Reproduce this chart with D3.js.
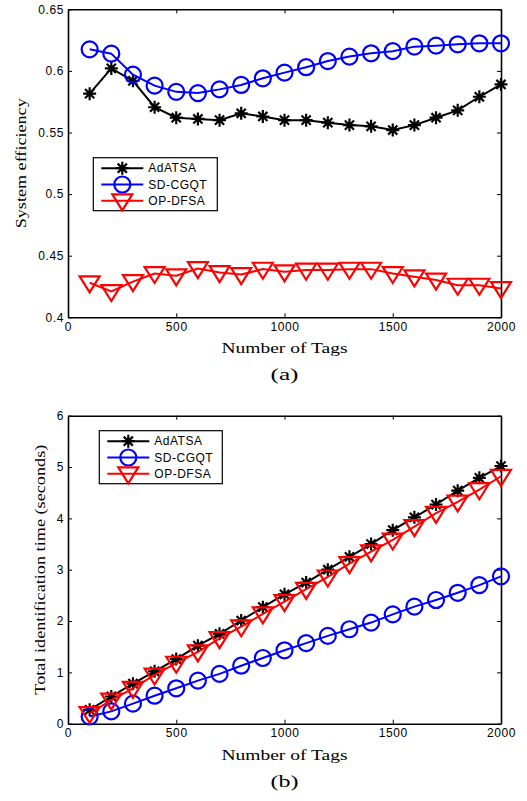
<!DOCTYPE html>
<html>
<head>
<meta charset="utf-8">
<script src="https://cdn.jsdelivr.net/npm/d3@7"></script>
<style>
body { margin: 0; background: #fff; }
svg { display: block; }
</style>
</head>
<body>
<div id="my_dataviz"></div>
<script>
var tags = [100,200,300,400,500,600,700,800,900,1000,1100,1200,1300,1400,1500,1600,1700,1800,1900,2000];
var xTicks = [0,500,1000,1500,2000];

// (a) system efficiency
var effAdATSA = [0.5815,0.602,0.592,0.5705,0.562,0.561,0.560,0.5656,0.563,0.560,0.560,0.558,0.556,0.555,0.552,0.556,0.562,0.568,0.579,0.589];
var effSDCGQT = [0.6175,0.614,0.597,0.588,0.583,0.582,0.585,0.5886,0.594,0.5986,0.603,0.608,0.6116,0.6143,0.616,0.6197,0.6205,0.6216,0.6224,0.6224];
var effOPDFSA = [0.428,0.421,0.429,0.4356,0.4337,0.4396,0.4364,0.4347,0.4391,0.4369,0.4383,0.4383,0.4391,0.4391,0.4356,0.4329,0.4302,0.4261,0.4261,0.4234];
var effTicks = [0.4,0.45,0.5,0.55,0.6,0.65];

// (b) total identification time
var timeAdATSA = [0.27,0.53,0.78,1.02,1.26,1.52,1.75,2.01,2.27,2.52,2.75,3.0,3.25,3.5,3.77,4.02,4.27,4.54,4.79,5.02];
var timeSDCGQT = [0.14,0.24,0.39,0.545,0.69,0.84,0.97,1.13,1.28,1.43,1.57,1.71,1.84,1.97,2.13,2.28,2.41,2.55,2.70,2.87];
var timeOPDFSA = [0.20,0.46,0.69,0.95,1.18,1.40,1.66,1.89,2.14,2.38,2.62,2.86,3.12,3.35,3.58,3.84,4.10,4.32,4.56,4.82];
var timeTicks = [0,1,2,3,4,5,6];

var seriesNames = ["AdATSA","SD-CGQT","OP-DFSA"];
var seriesColors = ["#000000","#0000ff","#ff0000"];
var seriesMarkers = ["star","circle","triangle"];

var svg = d3.select('#my_dataviz')
    .append('svg')
    .attr('width', 527)
    .attr('height', 801);

function markerPath(type){
    if(type == "star"){
        var r = 6.5, d = r*0.7071;
        return "M0,"+(-r)+"L0,"+r+"M"+(-r)+",0L"+r+",0M"+(-d)+","+(-d)+"L"+d+","+d+"M"+(-d)+","+d+"L"+d+","+(-d);
    }
    if(type == "circle"){
        return d3.arc()({innerRadius:0, outerRadius:8, startAngle:0, endAngle:2*Math.PI});
    }
    // downward triangle, a bit above centroid like matlab
    var w = 10, h = 16;
    return "M"+(-w)+","+(-0.4*h)+"L"+w+","+(-0.4*h)+"L0,"+(0.6*h)+"Z";
}

var serif = "'Liberation Serif', 'Times New Roman', serif";
var sans = "'Liberation Sans', Arial, sans-serif";

function drawPanel(top, yDomain, yTickVals, yFmt, yLabel, yLabelLen, series, legendPos, yLabelX, caption){
    var left = 68, right = 501, bottom = top + 308;
    var g = svg.append('g');

    var x = d3.scaleLinear().domain([0,2000]).range([left,right]);
    var y = d3.scaleLinear().domain(yDomain).range([bottom,top]);

    // axes box with ticks on all sides, pointing inwards
    g.append("g")
        .attr("transform","translate(0,"+bottom+")")
        .call(d3.axisBottom(x).tickValues(xTicks).tickSizeInner(-4).tickSizeOuter(0).tickPadding(5).tickFormat(d3.format("d")));
    g.append("g")
        .attr("transform","translate(0,"+top+")")
        .call(d3.axisTop(x).tickValues(xTicks).tickSizeInner(-4).tickSizeOuter(0).tickFormat(""));
    g.append("g")
        .attr("transform","translate("+left+",0)")
        .call(d3.axisLeft(y).tickValues(yTickVals).tickSizeInner(-4).tickSizeOuter(0).tickPadding(4).tickFormat(yFmt));
    g.append("g")
        .attr("transform","translate("+right+",0)")
        .call(d3.axisRight(y).tickValues(yTickVals).tickSizeInner(-4).tickSizeOuter(0).tickFormat(""));

    g.selectAll(".domain").attr("stroke","#000").attr("stroke-width",1.6);
    g.selectAll(".tick line").attr("stroke","#000").attr("stroke-width",1);
    g.selectAll(".tick text")
        .attr("fill","#000")
        .style("font-family",sans)
        .style("font-size","12px")
        .style("letter-spacing","0.6px");

    var line = d3.line()
        .x(function(d,i){ return x(tags[i]); })
        .y(function(d){ return y(d); });

    series.forEach(function(vals, k){
        g.append("path")
            .datum(vals)
            .attr("d", line)
            .attr("fill","none")
            .attr("stroke", seriesColors[k])
            .attr("stroke-width", 2);
        g.selectAll(".m"+k)
            .data(vals)
            .enter()
            .append("path")
            .attr("class","m"+k)
            .attr("transform", function(d,i){ return "translate("+x(tags[i])+","+y(d)+")"; })
            .attr("d", markerPath(seriesMarkers[k]))
            .attr("fill","none")
            .attr("stroke", seriesColors[k])
            .attr("stroke-width", 2.2);
    });

    // legend
    var lg = g.append("g").attr("transform","translate("+legendPos[0]+","+legendPos[1]+")");
    lg.append("rect")
        .attr("x",0).attr("y",0)
        .attr("width",legendPos[2]).attr("height",53)
        .attr("fill","#fff").attr("stroke","#000").attr("stroke-width",1.2);
    seriesNames.forEach(function(name,k){
        var ry = 10.5 + k*16.3;
        lg.append("line")
            .attr("x1",8).attr("x2",50).attr("y1",ry).attr("y2",ry)
            .attr("stroke",seriesColors[k]).attr("stroke-width",2);
        lg.append("path")
            .attr("transform","translate(29,"+ry+")")
            .attr("d",markerPath(seriesMarkers[k]))
            .attr("fill","none")
            .attr("stroke",seriesColors[k]).attr("stroke-width",2.2);
        lg.append("text")
            .attr("x",55).attr("y",ry+4.2)
            .style("font-family",sans)
            .style("font-size","12px")
            .style("letter-spacing","0.5px")
            .text(name);
    });

    g.append("text")
        .attr("x", (left+right)/2)
        .attr("y", bottom + 36)
        .attr("text-anchor","middle")
        .attr("textLength",126)
        .attr("lengthAdjust","spacingAndGlyphs")
        .style("font-family",serif)
        .style("font-size","15px")
        .text("Number of Tags");

    g.append("text")
        .attr("transform","translate("+yLabelX+","+((top+bottom)/2)+") rotate(-90)")
        .attr("text-anchor","middle")
        .attr("textLength",yLabelLen)
        .attr("lengthAdjust","spacingAndGlyphs")
        .style("font-family",serif)
        .style("font-size","15px")
        .text(yLabel);

    g.append("text")
        .attr("x", (left+right)/2)
        .attr("y", bottom + 63)
        .attr("text-anchor","middle")
        .attr("textLength",28)
        .attr("lengthAdjust","spacingAndGlyphs")
        .style("font-family",serif)
        .style("font-size","17px")
        .text(caption);
}

drawPanel(9.3, [0.4,0.65], effTicks, function(d){ return String(+d.toFixed(2)); },
    "System efficiency", 130, [effAdATSA, effSDCGQT, effOPDFSA], [93.3,157.7,124], 26, "(a)");
drawPanel(415.7, [0,6], timeTicks, function(d){ return String(d); },
    "Total identification time (seconds)", 250, [timeAdATSA, timeSDCGQT, timeOPDFSA], [99.3,430.7,123], 45, "(b)");
</script>
</body>
</html>
